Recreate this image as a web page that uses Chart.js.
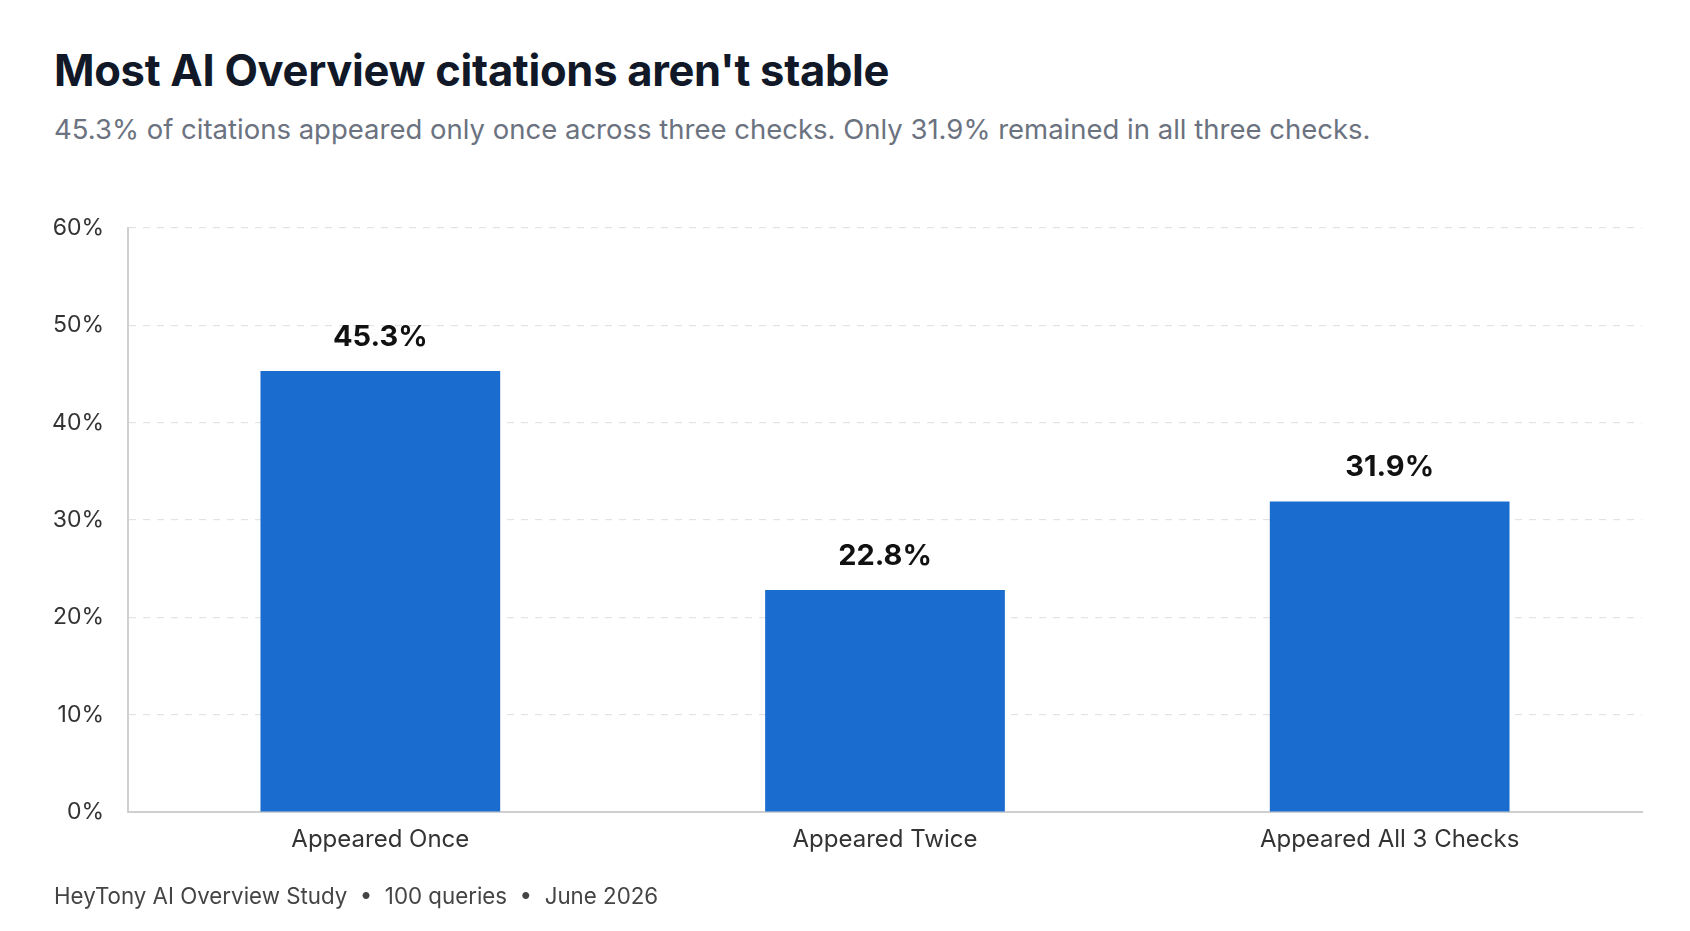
<!DOCTYPE html>
<html>
<head>
<meta charset="utf-8">
<script src="https://cdn.jsdelivr.net/npm/chart.js@4.4.1/dist/chart.umd.min.js"></script>
<style>
  html, body { margin: 0; padding: 0; background: #fff; }
  body { width: 1690px; height: 931px; position: relative; overflow: hidden; font-family: Inter, "Noto Sans", sans-serif; }
  #titulo { position: absolute; left: 54px; top: 46px; font-size: 43.5px; font-weight: 700; color: #111827; line-height: 48px; white-space: nowrap; letter-spacing: -0.3px; }
  #subtitulo { position: absolute; left: 54px; top: 113px; font-size: 27.5px; color: #6b7280; line-height: 32px; white-space: nowrap; }
  #rodape { position: absolute; left: 54px; top: 882px; font-size: 22.3px; color: #444; line-height: 28px; white-space: nowrap; }
  #grafico { position: absolute; left: 0; top: 0; }
</style>
</head>
<body>
<div id="titulo">Most AI Overview citations aren't stable</div>
<div id="subtitulo">45.3% of citations appeared only once across three checks. Only 31.9% remained in all three checks.</div>
<canvas id="grafico" width="1690" height="931"></canvas>
<div id="rodape">HeyTony AI Overview Study &nbsp;•&nbsp; 100 queries &nbsp;•&nbsp; June 2026</div>
<script>
var CATEGORIAS = ['Appeared Once', 'Appeared Twice', 'Appeared All 3 Checks'];
var VALORES = [45.3, 22.8, 31.9];
var TICKS_Y = [0, 10, 20, 30, 40, 50, 60];
var AZUL = '#1a6dcf';
var FONTE = 'Inter, "Noto Sans", sans-serif';

// escreve o valor em cima de cada barra
var rotulos = {
    id: 'rotulos',
    afterDatasetsDraw: function (chart) {
        var ctx = chart.ctx;
        var meta = chart.getDatasetMeta(0);
        ctx.save();
        ctx.font = '700 29px ' + FONTE;
        ctx.fillStyle = '#111';
        ctx.textAlign = 'center';
        ctx.textBaseline = 'middle';
        meta.data.forEach(function (barra, i) {
            ctx.fillText(VALORES[i].toFixed(1) + '%', barra.x, barra.y - 34);
        });
        ctx.restore();
    }
};

var ctx = document.getElementById('grafico').getContext('2d');
window.Grafico = new Chart(ctx, {
    type: 'bar',
    data: {
        labels: CATEGORIAS,
        datasets: [{
            data: VALORES,
            backgroundColor: AZUL,
            categoryPercentage: 1,
            barPercentage: 0.475
        }]
    },
    options: {
        responsive: false,
        animation: false,
        layout: { padding: { top: 228, right: 48, left: 0, bottom: 0 } },
        plugins: {
            legend: { display: false },
            tooltip: { enabled: false }
        },
        scales: {
            x: {
                afterFit: function (scale) { scale.height = 119; },
                grid: { display: false },
                border: { display: true, color: '#cfcfcf', width: 2 },
                ticks: {
                    color: '#333',
                    padding: 5,
                    font: { family: FONTE, size: 24 }
                }
            },
            y: {
                min: 0,
                max: 60,
                afterFit: function (scale) { scale.width = 128; },
                afterBuildTicks: function (scale) {
                    scale.ticks = TICKS_Y.map(function (v) { return { value: v }; });
                },
                grid: { color: '#e3e3e3', lineWidth: 1.2, drawTicks: false },
                border: { display: true, color: '#cfcfcf', width: 2, dash: [7, 7] },
                ticks: {
                    color: '#333',
                    padding: 24,
                    font: { family: FONTE, size: 23 },
                    callback: function (v) { return v + '%'; }
                }
            }
        }
    },
    plugins: [rotulos]
});
</script>
</body>
</html>
